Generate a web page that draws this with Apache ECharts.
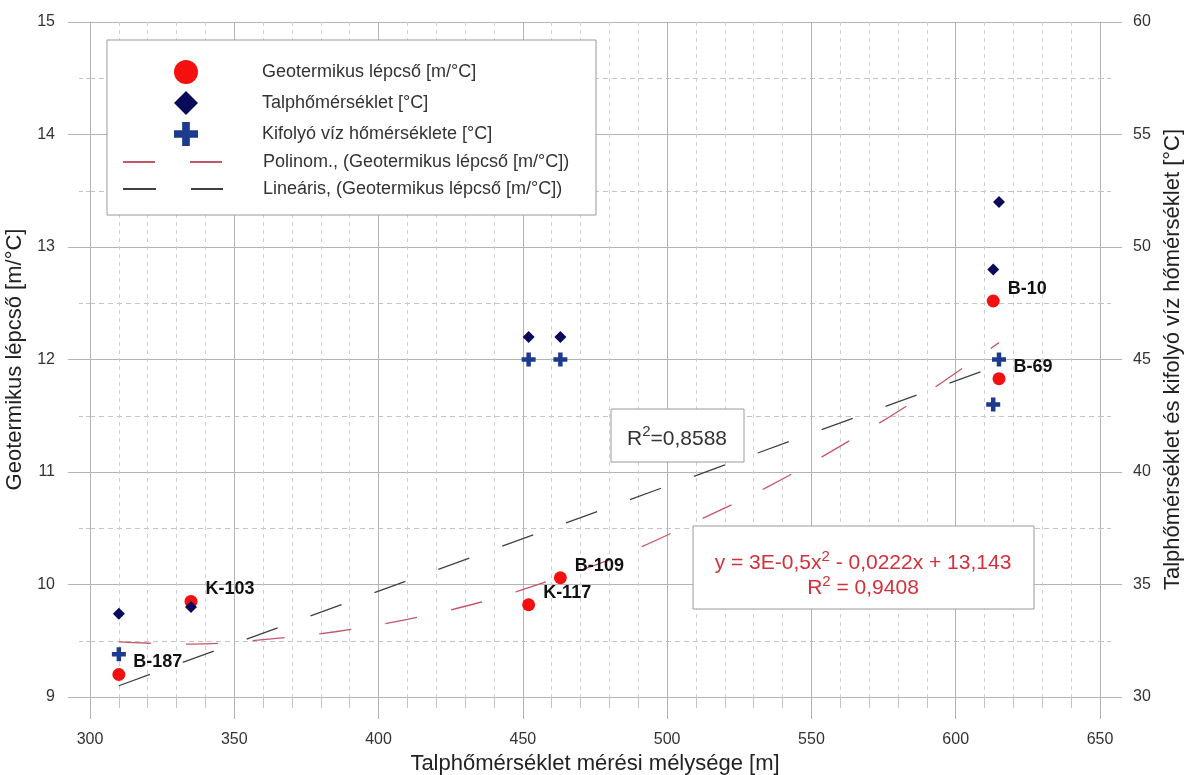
<!DOCTYPE html>
<html>
<head>
<meta charset="utf-8">
<script src="https://cdn.jsdelivr.net/npm/echarts@6/dist/echarts.min.js"></script>
<style>
  html, body { margin: 0; padding: 0; background: #fff; }
  #chart { width: 1189px; height: 775px; }
</style>
</head>
<body>
<div id="chart"></div>
<script>
// mérési adatok
var wellNames = ['B-187', 'K-103', 'K-117', 'B-109', 'B-10', 'B-69'];
var geoDepth = [310, 335, 452, 463, 613, 615];
var geoStep = [9.2, 9.85, 9.82, 10.06, 12.52, 11.83];

var bottomDepth = [310, 335, 452, 463, 613, 615];
var bottomTemp = [33.7, 34.0, 46.0, 46.0, 49.0, 52.0];

var outflowDepth = [310, 452, 463, 613, 615];
var outflowTemp = [31.9, 45.0, 45.0, 43.0, 45.0];

// trendvonalak pontjai
var linDepth = [310, 615];
var linStep = [9.1, 11.95];
var polyDepth = [310, 335, 360, 385, 410, 435, 460, 485, 510, 535, 560, 585, 615];
var polyStep = [9.49, 9.47, 9.51, 9.58, 9.69, 9.84, 10.04, 10.27, 10.56, 10.87, 11.23, 11.62, 12.15];

var xTicks = [300, 350, 400, 450, 500, 550, 600, 650];

var names = {
  geo: 'Geotermikus lépcső [m/°C]',
  bottom: 'Talphőmérséklet [°C]',
  outflow: 'Kifolyó víz hőmérséklete [°C]',
  poly: 'Polinom., (Geotermikus lépcső [m/°C])',
  lin: 'Lineáris, (Geotermikus lépcső [m/°C])'
};

function pairs(xs, ys) {
  var out = [];
  for (var i = 0; i < xs.length; i++) out.push([xs[i], ys[i]]);
  return out;
}

var geoData = [];
for (var i = 0; i < geoDepth.length; i++) {
  geoData.push({ name: wellNames[i], value: [geoDepth[i], geoStep[i]] });
}

var FONT = '"Liberation Sans", Arial, sans-serif';
var plusPath = 'path://M0,3.4H3.4V0H6.6V3.4H10V6.6H6.6V10H3.4V6.6H0Z';

var myChart = echarts.init(document.getElementById('chart'));

var gridLine = { color: '#b4b4b4', width: 1 };
var minorLine = { color: '#cfcfcf', width: 1, type: [4, 4] };

var option = {
  backgroundColor: '#fff',
  animation: false,
  textStyle: { fontFamily: FONT },
  grid: { left: 90, right: 89, top: 22, bottom: 78, containLabel: false, outerBoundsMode: 'none' },
  xAxis: {
    type: 'value',
    min: xTicks[0],
    max: xTicks[xTicks.length - 1],
    interval: 50,
    name: 'Talphőmérséklet mérési mélysége [m]',
    nameLocation: 'middle',
    nameGap: 55,
    nameTextStyle: { fontSize: 22, color: '#222', fontFamily: FONT },
    axisLine: { show: true, lineStyle: gridLine },
    axisTick: { show: true, inside: false, length: 22, lineStyle: gridLine },
    minorTick: { show: true, splitNumber: 5, length: 11, lineStyle: { color: '#c4c4c4' } },
    splitLine: { show: true, lineStyle: gridLine },
    minorSplitLine: { show: true, lineStyle: minorLine },
    axisLabel: { fontSize: 16, color: '#333', margin: 35, fontFamily: FONT }
  },
  yAxis: [
    {
      type: 'value',
      min: 9,
      max: 15,
      interval: 1,
      name: 'Geotermikus lépcső [m/°C]',
      nameLocation: 'middle',
      nameRotate: 90,
      nameGap: 58,
      nameTextStyle: { fontSize: 22, color: '#222', fontFamily: FONT },
      axisLine: { show: true, lineStyle: gridLine },
      axisTick: { show: true, length: 22, lineStyle: gridLine },
      minorTick: { show: true, splitNumber: 2, length: 12, lineStyle: { color: '#c4c4c4', type: [4, 3] } },
      splitLine: { show: true, lineStyle: gridLine },
      minorSplitLine: { show: true, lineStyle: { color: '#c4c4c4', width: 1, type: [5, 4] } },
      axisLabel: { fontSize: 16, color: '#333', margin: 35, fontFamily: FONT }
    },
    {
      type: 'value',
      position: 'right',
      min: 30,
      max: 60,
      interval: 5,
      name: 'Talphőmérséklet és kifolyó víz hőmérséklet [°C]',
      nameLocation: 'middle',
      nameRotate: 90,
      nameGap: 62,
      nameTextStyle: { fontSize: 22, color: '#222', fontFamily: FONT },
      axisLine: { show: true, lineStyle: gridLine },
      axisTick: { show: true, length: 22, lineStyle: gridLine },
      minorTick: { show: true, splitNumber: 2, length: 12, lineStyle: { color: '#c4c4c4', type: [4, 3] } },
      splitLine: { show: false },
      axisLabel: { fontSize: 16, color: '#333', margin: 33, fontFamily: FONT }
    }
  ],
  legend: [
    {
      orient: 'vertical',
      left: 174,
      top: 60,
      padding: 0,
      itemWidth: 24,
      itemHeight: 24,
      itemGap: 7,
      selectedMode: false,
      data: [names.geo, names.bottom, names.outflow],
      itemStyle: { opacity: 1 },
      textStyle: { fontSize: 18, color: '#333', fontFamily: FONT, padding: [0, 0, 0, 59] }
    },
    {
      orient: 'vertical',
      left: 122,
      top: 153,
      padding: 0,
      itemWidth: 100,
      itemHeight: 20,
      itemGap: 9,
      selectedMode: false,
      data: [names.poly, names.lin],
      itemStyle: { opacity: 0 },
      textStyle: { fontSize: 18, color: '#333', fontFamily: FONT, padding: [0, 0, 0, 35] }
    }
  ],
  graphic: [
    {
      type: 'rect', z: 3,
      shape: { x: 107, y: 40, width: 489, height: 175 },
      style: { fill: '#fff', stroke: '#9a9a9a', lineWidth: 1 }
    },
    {
      type: 'rect', z: 3,
      shape: { x: 611, y: 409, width: 133, height: 53 },
      style: { fill: '#fff', stroke: '#9a9a9a', lineWidth: 1 }
    },
    {
      type: 'text', z: 5, x: 677, y: 437,
      style: {
        text: '{r|R}{s|2}{r|=0,8588}',
        align: 'center', verticalAlign: 'middle',
        rich: {
          r: { fontSize: 21, fontFamily: FONT, fill: '#333', lineHeight: 26, verticalAlign: 'bottom' },
          s: { fontSize: 15, fontFamily: FONT, fill: '#333', lineHeight: 26, verticalAlign: 'top' }
        }
      }
    },
    {
      type: 'rect', z: 3,
      shape: { x: 693, y: 526, width: 341, height: 83 },
      style: { fill: '#fff', stroke: '#9a9a9a', lineWidth: 1 }
    },
    {
      type: 'text', z: 5, x: 863, y: 574,
      style: {
        text: '{r|y = 3E-0,5x}{s|2}{r| - 0,0222x + 13,143}\n{r|R}{s|2}{r| = 0,9408}',
        align: 'center', verticalAlign: 'middle',
        rich: {
          r: { fontSize: 21, fontFamily: FONT, fill: '#d3303c', lineHeight: 25, verticalAlign: 'bottom' },
          s: { fontSize: 15, fontFamily: FONT, fill: '#d3303c', lineHeight: 25, verticalAlign: 'top' }
        }
      }
    }
  ],
  series: [
    {
      name: names.poly,
      type: 'line',
      smooth: 0.4,
      symbol: 'none',
      z: 1,
      data: pairs(polyDepth, polyStep),
      lineStyle: { color: '#c4566a', width: 1.3, type: [32, 35] },
      itemStyle: { color: '#c4566a' }
    },
    {
      name: names.lin,
      type: 'line',
      symbol: 'none',
      z: 1,
      data: pairs(linDepth, linStep),
      lineStyle: { color: '#404040', width: 1.3, type: [33, 35] },
      itemStyle: { color: '#404040' }
    },
    {
      name: names.geo,
      type: 'scatter',
      symbol: 'circle',
      symbolSize: 13,
      z: 5,
      data: geoData,
      itemStyle: { color: '#f51010', opacity: 1 },
      label: {
        show: true,
        formatter: '{b}',
        position: 'right',
        distance: 8,
        offset: [0, -12],
        fontSize: 18,
        fontWeight: 'bold',
        color: '#111',
        fontFamily: FONT
      }
    },
    {
      name: names.bottom,
      type: 'scatter',
      yAxisIndex: 1,
      symbol: 'diamond',
      symbolSize: [12, 12],
      z: 6,
      data: pairs(bottomDepth, bottomTemp),
      itemStyle: { color: '#0a0a5a', opacity: 1 }
    },
    {
      name: names.outflow,
      type: 'scatter',
      yAxisIndex: 1,
      symbol: plusPath,
      symbolSize: 14,
      z: 6,
      data: pairs(outflowDepth, outflowTemp),
      itemStyle: { color: '#1c3a8e', opacity: 1 }
    }
  ]
};

myChart.setOption(option);
window.onresize = function () { myChart.resize(); };
</script>
</body>
</html>
